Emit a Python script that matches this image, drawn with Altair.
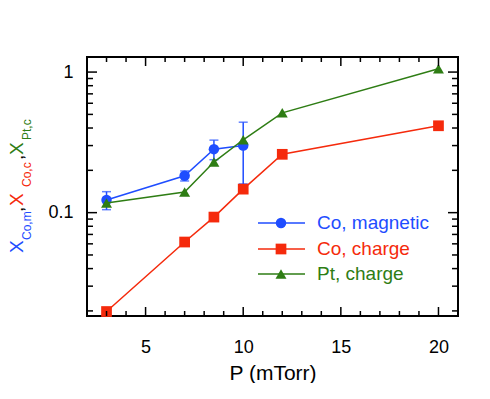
import altair as alt
import pandas as pd

# ---------------- data ----------------
pressure = [3, 7, 8.5, 10, 12, 20]
co_m_p = [3, 7, 8.5, 10]
co_m = [0.123, 0.183, 0.283, 0.30]
co_m_err = [0.018, 0.015, 0.045, 0.14]
co_c = [0.0198, 0.0618, 0.093, 0.147, 0.26, 0.415]
pt_c = [0.117, 0.140, 0.229, 0.33, 0.513, 1.055]

series_names = ["Co, magnetic", "Co, charge", "Pt, charge"]
colors = ["#1f4dff", "#f52a0c", "#2e7d14"]
shapes = ["circle", "square", "triangle-up"]
sizes = [110, 115, 120]

x_major = [5, 10, 15, 20]
x_minor = [3, 4, 6, 7, 8, 9, 11, 12, 13, 14, 16, 17, 18, 19]
y_major = [0.1, 1]
y_minor = [0.02, 0.03, 0.04, 0.05, 0.06, 0.07, 0.08, 0.09,
           0.2, 0.3, 0.4, 0.5, 0.6, 0.7, 0.8, 0.9]

W, H = 371, 259
FONT = "Liberation Sans"

xscale = alt.Scale(domain=[2, 21], nice=False, zero=False)
yscale = alt.Scale(type="log", domain=[0.0184, 1.28], nice=False)

df_m = pd.DataFrame({"p": co_m_p, "v": co_m, "e": co_m_err})
df_m["lo"] = df_m["v"] - df_m["e"]
df_m["hi"] = df_m["v"] + df_m["e"]
df_c = pd.DataFrame({"p": pressure, "v": co_c})
df_pt = pd.DataFrame({"p": pressure, "v": pt_c})

x_axis = alt.Axis(values=x_major, ticks=False, domain=False, grid=False,
                  labelFontSize=18, labelPadding=22, labelFont=FONT,
                  labelColor="black", title="P (mTorr)", titleFontSize=21,
                  titleFontWeight="normal", titleFont=FONT, titlePadding=6,
                  titleColor="black")
y_axis = alt.Axis(values=y_major, ticks=False, domain=False, grid=False,
                  format="~g", labelFontSize=18, labelPadding=14,
                  labelFont=FONT, labelColor="black", title=None)


def X(field):
    return alt.X(field, scale=xscale, axis=x_axis, title="P (mTorr)")


def Y(field):
    return alt.Y(field, scale=yscale, axis=y_axis, title=None)


layers = []

# error bars (Co magnetic)
err = alt.Chart(df_m)
layers.append(err.mark_rule(color=colors[0], strokeWidth=1.5).encode(
    x=X("p:Q"), y=Y("lo:Q"), y2="hi:Q"))
for col in ["lo", "hi"]:
    layers.append(err.mark_tick(color=colors[0], orient="horizontal",
                                size=9, thickness=1.5).encode(
        x=X("p:Q"), y=Y(f"{col}:Q")))

for d, c, s, sz in zip([df_m, df_c, df_pt], colors, shapes, sizes):
    base = alt.Chart(d)
    layers.append(base.mark_line(color=c, strokeWidth=1.5).encode(
        x=X("p:Q"), y=Y("v:Q")))
    layers.append(base.mark_point(color=c, filled=True, opacity=1,
                                  shape=s, size=sz).encode(
        x=X("p:Q"), y=Y("v:Q")))


# inward ticks on all four sides
def xticks(vals, length):
    d = pd.DataFrame({"t": vals})
    b = alt.Chart(d).mark_rule(color="black", strokeWidth=1.5)
    bot = b.encode(x=X("t:Q"), y=alt.value(H), y2=alt.value(H - length))
    top = b.encode(x=X("t:Q"), y=alt.value(0), y2=alt.value(length))
    return [bot, top]


def yticks(vals, length):
    d = pd.DataFrame({"t": vals})
    b = alt.Chart(d).mark_rule(color="black", strokeWidth=1.5)
    left = b.encode(y=Y("t:Q"), x=alt.value(0), x2=alt.value(length))
    right = b.encode(y=Y("t:Q"), x=alt.value(W), x2=alt.value(W - length))
    return [left, right]


layers += xticks(x_major, 9) + xticks(x_minor, 5)
layers += yticks(y_major, 10) + yticks(y_minor, 6)

# legend
one = pd.DataFrame({"a": [0]})
leg_y = [166, 192, 217]
for name, c, s, sz, yy in zip(series_names, colors, shapes, sizes, leg_y):
    b = alt.Chart(one)
    layers.append(b.mark_rule(color=c, strokeWidth=1.5).encode(
        x=alt.value(171), x2=alt.value(218), y=alt.value(yy)))
    layers.append(b.mark_point(color=c, filled=True, opacity=1, shape=s,
                               size=sz).encode(
        x=alt.value(194), y=alt.value(yy)))
    layers.append(b.mark_text(color=c, fontSize=19, font=FONT, align="left",
                              baseline="middle").encode(
        x=alt.value(230), y=alt.value(yy), text=alt.value(name)))

# y-axis title pieces (rotated)
title_parts = [
    ("X", colors[0], 19, -64, 196),
    ("Co,m", colors[0], 12, -56, 183),
    (",", "black", 19, -64, 155),
    ("X", colors[1], 19, -64, 149),
    ("Co,c", colors[1], 12, -56, 130),
    (",", "black", 19, -64, 103),
    ("X", colors[2], 19, -64, 98),
    ("Pt,c", colors[2], 12, -56, 83),
]
for txt, c, fs, xx, yy in title_parts:
    layers.append(alt.Chart(one).mark_text(
        color=c, fontSize=fs, font=FONT, angle=270, align="left",
        baseline="alphabetic").encode(
        x=alt.value(xx), y=alt.value(yy), text=alt.value(txt)))

chart = alt.layer(*layers).properties(
    width=W, height=H,
    autosize=alt.AutoSizeParams(type="none"),
    padding={"left": 79, "top": 49, "right": 16, "bottom": 67},
    background="white",
).configure_view(stroke="black", strokeWidth=2)

chart.save("out.html", embed_options={"renderer": "svg", "actions": False})
